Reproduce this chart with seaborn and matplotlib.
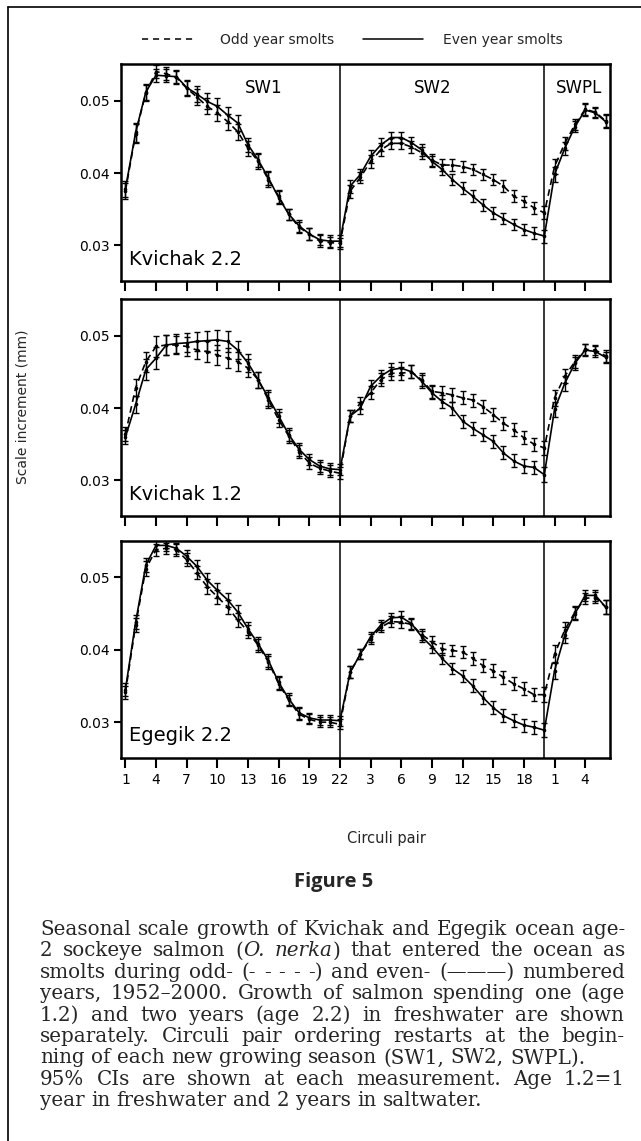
import numpy as np
import pandas as pd
import matplotlib
matplotlib.use("Agg")
import matplotlib.pyplot as plt
import seaborn as sns
from matplotlib.lines import Line2D

# ---------------- data ----------------
positions = list(range(1, 49))
tick_pos = [1, 4, 7, 10, 13, 16, 19, 22, 25, 28, 31, 34, 37, 40, 43, 46]
tick_labels = ["1", "4", "7", "10", "13", "16", "19", "22",
               "3", "6", "9", "12", "15", "18", "1", "4"]
season_bounds = [22, 42]
season_names = ["SW1", "SW2", "SWPL"]
season_label_x = [14.5, 31.1, 45.4]

kv22_even = [0.0378, 0.0456, 0.0512, 0.0535, 0.0534, 0.0533, 0.0518, 0.0509, 0.0499, 0.0492, 0.0480,
             0.0469, 0.0439, 0.0418, 0.0393, 0.0366, 0.0343, 0.0327, 0.0316, 0.0308, 0.0306, 0.0306,
             0.0382, 0.0398, 0.0423, 0.0439, 0.0449, 0.0449, 0.0442, 0.0432, 0.0416, 0.0405, 0.0391,
             0.0379, 0.0368, 0.0356, 0.0345, 0.0337, 0.0329, 0.0322, 0.0317, 0.0313,
             0.0398, 0.0434, 0.0464, 0.0487, 0.0483, 0.0471]
kv22_odd = [0.0375, 0.0454, 0.0511, 0.0540, 0.0537, 0.0532, 0.0517, 0.0505, 0.0492, 0.0483, 0.0471,
            0.0457, 0.0434, 0.0416, 0.0391, 0.0368, 0.0343, 0.0325, 0.0316, 0.0306, 0.0304, 0.0303,
            0.0375, 0.0394, 0.0416, 0.0432, 0.0441, 0.0441, 0.0436, 0.0428, 0.0418, 0.0411, 0.0411,
            0.0409, 0.0405, 0.0398, 0.0391, 0.0382, 0.0368, 0.0361, 0.0352, 0.0345,
            0.0409, 0.0441, 0.0467, 0.0488, 0.0484, 0.0472]
kv22_ci = [0.0011, 0.0013, 0.0011, 0.0009, 0.0009, 0.0009, 0.0010, 0.0011, 0.0011, 0.0011, 0.0011,
           0.0011, 0.0010, 0.0010, 0.0010, 0.0009, 0.0008, 0.0008, 0.0008, 0.0008, 0.0008, 0.0008,
           0.0009, 0.0008, 0.0009, 0.0009, 0.0008, 0.0008, 0.0008, 0.0008, 0.0008, 0.0008, 0.0008,
           0.0008, 0.0008, 0.0008, 0.0008, 0.0008, 0.0008, 0.0008, 0.0008, 0.0009,
           0.0010, 0.0009, 0.0008, 0.0008, 0.0007, 0.0009]

kv12_even = [0.0360, 0.0405, 0.0453, 0.0469, 0.0487, 0.0489, 0.0490, 0.0492, 0.0493, 0.0494, 0.0492,
             0.0480, 0.0462, 0.0439, 0.0414, 0.0389, 0.0363, 0.0343, 0.0329, 0.0320, 0.0316, 0.0315,
             0.0389, 0.0400, 0.0430, 0.0444, 0.0453, 0.0455, 0.0450, 0.0437, 0.0421, 0.0409, 0.0400,
             0.0382, 0.0372, 0.0363, 0.0354, 0.0338, 0.0327, 0.0320, 0.0318, 0.0308,
             0.0398, 0.0434, 0.0462, 0.0480, 0.0478, 0.0470]
kv12_odd = [0.0364, 0.0428, 0.0464, 0.0485, 0.0487, 0.0487, 0.0485, 0.0480, 0.0478, 0.0473, 0.0469,
            0.0464, 0.0455, 0.0439, 0.0411, 0.0384, 0.0361, 0.0340, 0.0324, 0.0317, 0.0313, 0.0310,
            0.0389, 0.0407, 0.0421, 0.0439, 0.0448, 0.0448, 0.0450, 0.0439, 0.0423, 0.0421, 0.0418,
            0.0414, 0.0411, 0.0402, 0.0391, 0.0379, 0.0370, 0.0359, 0.0350, 0.0345,
            0.0414, 0.0444, 0.0464, 0.0481, 0.0480, 0.0472]
kv12_ci = [0.0010, 0.0012, 0.0014, 0.0015, 0.0014, 0.0013, 0.0013, 0.0013, 0.0014, 0.0014, 0.0014,
           0.0013, 0.0012, 0.0011, 0.0011, 0.0010, 0.0009, 0.0009, 0.0008, 0.0008, 0.0008, 0.0008,
           0.0008, 0.0008, 0.0009, 0.0009, 0.0009, 0.0009, 0.0009, 0.0009, 0.0009, 0.0009, 0.0009,
           0.0009, 0.0009, 0.0009, 0.0009, 0.0009, 0.0009, 0.0009, 0.0009, 0.0010,
           0.0011, 0.0010, 0.0009, 0.0008, 0.0007, 0.0008]

eg22_even = [0.0345, 0.0438, 0.0517, 0.0544, 0.0544, 0.0540, 0.0529, 0.0515, 0.0496, 0.0482, 0.0469,
             0.0452, 0.0429, 0.0408, 0.0385, 0.0355, 0.0332, 0.0313, 0.0306, 0.0303, 0.0303, 0.0302,
             0.0369, 0.0394, 0.0418, 0.0434, 0.0444, 0.0445, 0.0436, 0.0418, 0.0404, 0.0388, 0.0374,
             0.0364, 0.0350, 0.0334, 0.0320, 0.0309, 0.0302, 0.0296, 0.0293, 0.0289,
             0.0371, 0.0420, 0.0450, 0.0475, 0.0475, 0.0459]
eg22_odd = [0.0341, 0.0434, 0.0512, 0.0538, 0.0540, 0.0538, 0.0524, 0.0506, 0.0487, 0.0473, 0.0459,
            0.0441, 0.0425, 0.0406, 0.0383, 0.0353, 0.0330, 0.0311, 0.0304, 0.0300, 0.0300, 0.0297,
            0.0369, 0.0394, 0.0415, 0.0431, 0.0439, 0.0438, 0.0435, 0.0421, 0.0411, 0.0401, 0.0399,
            0.0397, 0.0388, 0.0378, 0.0371, 0.0362, 0.0353, 0.0346, 0.0338, 0.0338,
            0.0394, 0.0427, 0.0452, 0.0471, 0.0472, 0.0459]
eg22_ci = [0.0009, 0.0010, 0.0010, 0.0008, 0.0008, 0.0008, 0.0009, 0.0009, 0.0010, 0.0010, 0.0010,
           0.0010, 0.0009, 0.0009, 0.0009, 0.0009, 0.0008, 0.0008, 0.0007, 0.0007, 0.0007, 0.0007,
           0.0008, 0.0007, 0.0007, 0.0007, 0.0007, 0.0008, 0.0008, 0.0008, 0.0008, 0.0008, 0.0008,
           0.0008, 0.0009, 0.0009, 0.0009, 0.0009, 0.0009, 0.0009, 0.0009, 0.0010,
           0.0012, 0.0011, 0.0009, 0.0008, 0.0008, 0.0009]

panel_names = ["Kvichak 2.2", "Kvichak 1.2", "Egegik 2.2"]
panel_even = [kv22_even, kv12_even, eg22_even]
panel_odd = [kv22_odd, kv12_odd, eg22_odd]
panel_ci = [kv22_ci, kv12_ci, eg22_ci]

legend_labels = ["Odd year smolts", "Even year smolts"]
y_ticks = [0.03, 0.04, 0.05]
y_ticklabels = ["0.03", "0.04", "0.05"]

caption_title = "Figure 5"
caption_lines = [
    "Seasonal scale growth of Kvichak and Egegik ocean age-",
    [("2", "n"), ("sockeye", "n"), ("salmon", "n"), [("(", "n"), ("O.", "i")],
     [("nerka", "i"), (")", "n")], ("that", "n"), ("entered", "n"), ("the", "n"),
     ("ocean", "n"), ("as", "n")],
    "smolts during odd- (- - - - -) and even- (\u2014\u2014\u2014) numbered",
    "years, 1952\u20132000. Growth of salmon spending one (age",
    "1.2) and two years (age 2.2) in freshwater are shown",
    "separately. Circuli pair ordering restarts at the begin-",
    "ning of each new growing season (SW1, SW2, SWPL).",
    "95% CIs are shown at each measurement. Age 1.2=1",
    "year in freshwater and 2 years in saltwater.",
]
caption_justify = [True, True, True, True, True, True, False, True, False]

# ---------------- styling ----------------
sns.set_theme(style="white")
plt.rcParams["font.family"] = ["DejaVu Sans"]
plt.rcParams["axes.linewidth"] = 1.8

W, H = 641, 1141
fig = plt.figure(figsize=(W / 100, H / 100), dpi=100)
fig.patch.set_facecolor("white")

ax_left, ax_right = 120.5, 609.5
panel_tops = [64.0, 299.0, 540.7]
panel_h = 217.0


def fx(px):
    return px / W


def fy(py):
    return 1 - py / H


axes = []
for i in range(3):
    top = panel_tops[i]
    ax = fig.add_axes([fx(ax_left), fy(top + panel_h), (ax_right - ax_left) / W, panel_h / H])
    axes.append(ax)
    df = pd.DataFrame({
        "pos": positions * 2,
        "value": panel_odd[i] + panel_even[i],
        "smolt": [legend_labels[0]] * 48 + [legend_labels[1]] * 48,
    })
    sns.lineplot(data=df, x="pos", y="value", style="smolt",
                 dashes={legend_labels[0]: (4, 2.6), legend_labels[1]: ""},
                 color="black", linewidth=1.2, estimator=None, sort=False,
                 legend=False, ax=ax)
    for vals in (panel_odd[i], panel_even[i]):
        ax.errorbar(positions, vals, yerr=panel_ci[i], fmt="none", ecolor="black",
                    elinewidth=1.0, capsize=1.9, capthick=1.0)
        ax.plot(positions, vals, linestyle="none", marker="o", ms=1.6, color="black")
    for b in season_bounds:
        ax.axvline(b, color="black", lw=1.1, zorder=1)
    ax.set_xlim(0.52, 48.38)
    ax.set_ylim(0.0251, 0.05505)
    ax.set_yticks(y_ticks)
    ax.set_yticklabels(y_ticklabels)
    ax.set_xticks(tick_pos)
    if i == 2:
        ax.set_xticklabels(tick_labels)
    else:
        ax.set_xticklabels([])
    ax.set_xlabel("")
    ax.set_ylabel("")
    ax.tick_params(axis="x", direction="out", length=7.2, width=1.5, pad=4.0,
                   labelsize=10, bottom=True, colors="black")
    ax.tick_params(axis="y", direction="out", length=5, width=1.5, pad=3.0,
                   labelsize=10, left=True, colors="black")
    for s in ax.spines.values():
        s.set_color("black")
        s.set_linewidth(1.8)
    ax.text(0.017, 0.075, panel_names[i], transform=ax.transAxes, fontsize=14,
            ha="left", va="baseline", color="black")

for name, xpos in zip(season_names, season_label_x):
    axes[0].text(xpos, 0.0510, name, fontsize=12, ha="center", va="baseline", color="black")

# legend
fig.add_artist(Line2D([fx(142), fx(195)], [fy(39), fy(39)], color="black", lw=1.1,
                      dashes=(4, 3.2)))
fig.text(fx(220), fy(40), legend_labels[0], fontsize=10, ha="left", va="center")
fig.add_artist(Line2D([fx(363), fx(423)], [fy(39), fy(39)], color="black", lw=1.1))
fig.text(fx(443), fy(40), legend_labels[1], fontsize=10, ha="left", va="center")

# axis labels
fig.text(fx(23), fy(407), "Scale increment (mm)", rotation=90, fontsize=10,
         ha="center", va="center")
fig.text(fx(386), fy(838), "Circuli pair", fontsize=10.5, ha="center", va="center")

# figure title
fig.text(fx(334), fy(887), caption_title, fontsize=14.5, fontweight="bold",
         family="Open Sans", ha="center", va="baseline")

# frame
fig.add_artist(Line2D([fx(8), fx(8)], [fy(7), fy(1141)], color="black", lw=1.2))
fig.add_artist(Line2D([fx(8), fx(641)], [fy(7), fy(7)], color="black", lw=1.2))

# caption (justified)
renderer = fig.canvas.get_renderer()
cap_x0, cap_x1 = 40.0, 625.0
cap_y0, cap_dy = 935.0, 21.4
cap_family = "DejaVu Serif"


def make_words(line):
    if isinstance(line, str):
        return [[(w, "n")] for w in line.split(" ")]
    out = []
    for w in line:
        out.append(w if isinstance(w, list) else [w])
    return out


def measure(s, st, size):
    t = fig.text(0, 0, s, fontsize=size, family=cap_family,
                 style="italic" if st == "i" else "normal")
    wdt = t.get_window_extent(renderer).width
    t.remove()
    return wdt


trial = 10.0
w1 = measure(caption_lines[0], "n", trial)
cap_size = trial * (cap_x1 - cap_x0) * 0.985 / w1

space_w = measure("a a", "n", cap_size) - measure("aa", "n", cap_size)

for li, line in enumerate(caption_lines):
    words = make_words(line)
    widths = [[measure(s, st, cap_size) for s, st in w] for w in words]
    tot = sum(sum(ws) for ws in widths)
    gap = (cap_x1 - cap_x0 - tot) / (len(words) - 1) if caption_justify[li] else space_w
    x = cap_x0
    y = cap_y0 + li * cap_dy
    for w, ws in zip(words, widths):
        for (s, st), sw in zip(w, ws):
            fig.text(fx(x), fy(y), s, fontsize=cap_size, family=cap_family,
                     style="italic" if st == "i" else "normal", ha="left", va="baseline")
            x += sw
        x += gap

fig.savefig("out.png", dpi=100, facecolor="white")
